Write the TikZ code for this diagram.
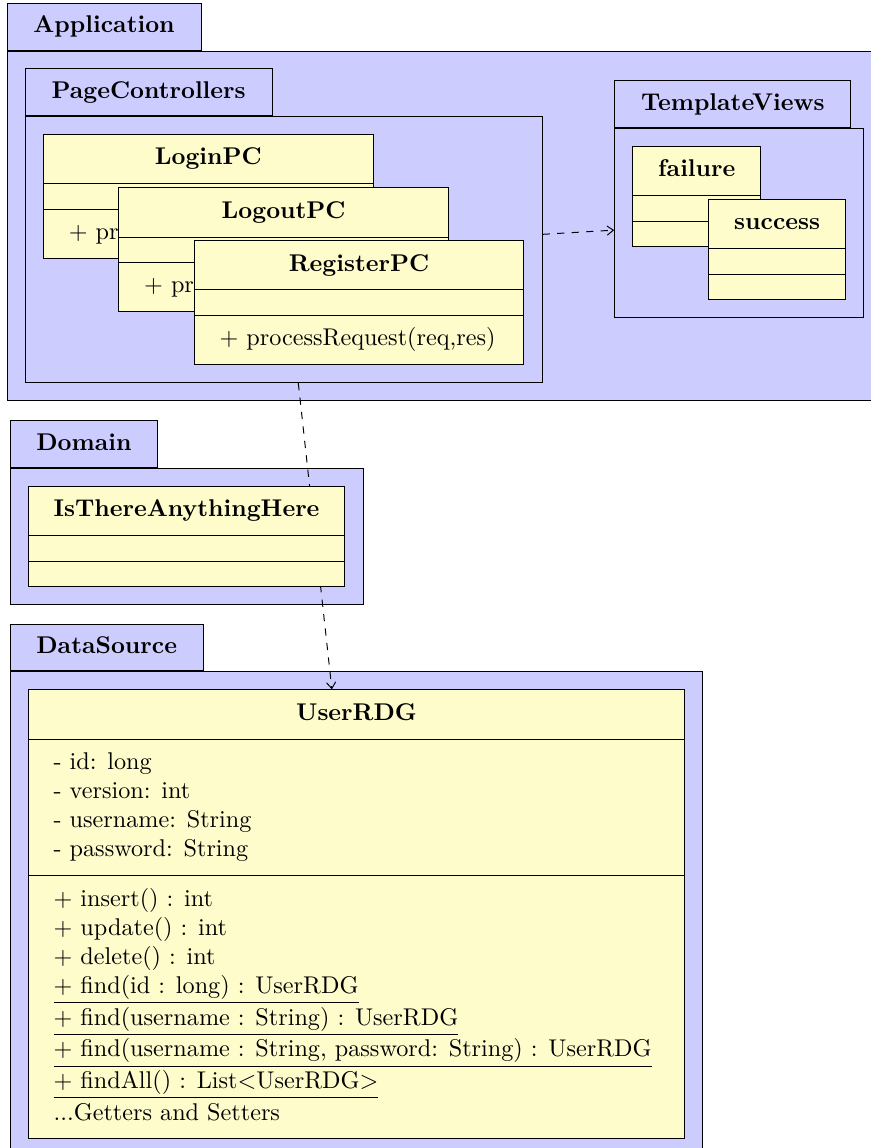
\documentclass[tikz,border=0pt]{standalone}
\usepackage{tikz}
\usetikzlibrary{arrows.meta, positioning, fit, shapes.multipart}

\pgfdeclarelayer{outer}
\pgfdeclarelayer{inner}
\pgfdeclarelayer{wires}
\pgfsetlayers{outer,inner,wires,main}

% empty compartment of a class box
\newcommand{\nopart}{\rule{0pt}{2pt}}
% depth of a last line
\newcommand{\lastdepth}{\rule[-3.5pt]{0pt}{3.5pt}}

\begin{document}
\begin{tikzpicture}[
  umlclass/.style={draw, fill=yellow!20, rectangle split, rectangle split parts=3,
    rectangle split part align={center,left,left}, align=left, anchor=north west,
    inner xsep=10.5pt, inner ysep=4pt},
  pkgtab/.style={draw, fill=blue!20, anchor=south west, font=\bfseries,
    inner xsep=10.9pt, inner ysep=3.65pt, text height=8.5pt, text depth=3.5pt},
  pkgbody/.style={draw, fill=blue!20, inner sep=7.3pt},
  dep/.style={-{Straight Barb[length=2.6pt,width=3.8pt]}, dashed}]
\useasboundingbox (0,0) rectangle (12.635,-16.672);

% Page controllers
\node[umlclass, minimum width=136.3pt] (loginPC) at (0.623,-1.946) {\strut\textbf{LoginPC}
  \nodepart{second}\nopart
  \nodepart{third}\strut+ processRequest(req,res)};
\node[umlclass, minimum width=136.3pt] (logoutPC) at (1.717,-2.720) {\strut\textbf{LogoutPC}
  \nodepart{second}\nopart
  \nodepart{third}\strut+ processRequest(req,res)};
\node[umlclass, minimum width=136.3pt] (registerPC) at (2.812,-3.486) {\strut\textbf{RegisterPC}
  \nodepart{second}\nopart
  \nodepart{third}\strut+ processRequest(req,res)};

% Template views
\node[umlclass] (failure) at (9.183,-2.120) {\strut\textbf{failure}
  \nodepart{second}\nopart \nodepart{third}\nopart};
\node[umlclass] (success) at (10.287,-2.890) {\strut\textbf{success}
  \nodepart{second}\nopart \nodepart{third}\nopart};

% Domain
\node[umlclass] (anything) at (0.402,-7.058) {\strut\textbf{IsThereAnythingHere}
  \nodepart{second}\nopart \nodepart{third}\nopart};

% Data source
\node[umlclass, minimum width=271.3pt] (userRDG) at (0.402,-10.011) {\strut\textbf{UserRDG}
  \nodepart{second}\strut- id: long\\
  - version: int\\
  - username: String\\
  - password: String\strut
  \nodepart{third}\strut+ insert() : int\\
  + update() : int\\
  + delete() : int\\
  \underline{+ find(id : long) : UserRDG}\\[1.1pt]
  \underline{+ find(username : String) : UserRDG}\\[1.1pt]
  \underline{+ find(username : String, password: String) : UserRDG}\\[1.1pt]
  \underline{+ findAll() : List$<$UserRDG$>$}\\[1.1pt]
  ...Getters and Setters\lastdepth};

% Packages
\begin{pgfonlayer}{inner}
\node[pkgbody, fit=(loginPC)(registerPC)] (pcBody) {};
\node[pkgtab] (pcTab) at (pcBody.north west) {PageControllers};
\node[pkgbody, fit=(failure)(success)] (tvBody) {};
\node[pkgtab] (tvTab) at (tvBody.north west) {TemplateViews};
\node[pkgbody, fit=(anything)] (domBody) {};
\node[pkgtab] (domTab) at (domBody.north west) {Domain};
\node[pkgbody, fit=(userRDG)] (dsBody) {};
\node[pkgtab] (dsTab) at (dsBody.north west) {DataSource};
\end{pgfonlayer}
\begin{pgfonlayer}{outer}
\node[pkgbody, inner ysep=7pt, fit=(pcTab)(pcBody)(tvTab)(tvBody)] (appBody) {};
\node[pkgtab] (appTab) at (appBody.north west) {Application};
\end{pgfonlayer}

% Dependencies
\begin{pgfonlayer}{wires}
\draw[dep] (pcBody) -- (tvBody);
\draw[dep] (pcBody) -- (userRDG);
\end{pgfonlayer}
\end{tikzpicture}
\end{document}
